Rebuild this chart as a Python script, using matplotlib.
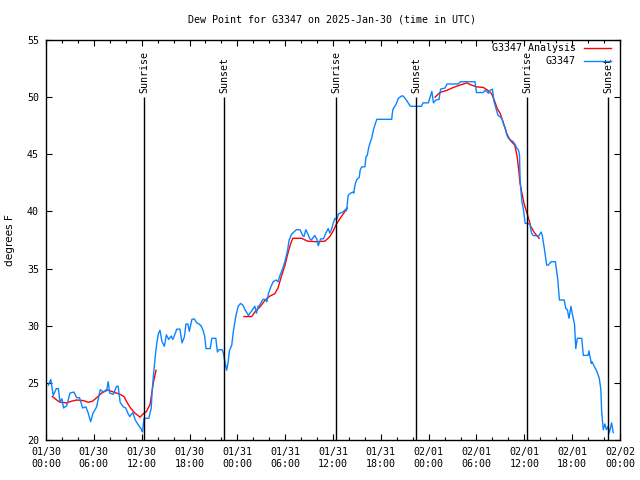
import matplotlib
matplotlib.use("Agg")
import matplotlib.pyplot as plt

# ---- data (hours since 2025-01-30 00:00 UTC, dew point in F) ----
obs_hours = [0.3, 0.6, 0.9, 1.3, 1.55, 1.75, 2.0, 2.2, 2.6, 3.0, 3.5, 3.85, 4.2, 4.6, 5.0, 5.3, 5.6, 5.9,
             6.35, 6.8, 7.2, 7.6, 7.8, 8.0, 8.45, 8.85, 9.05, 9.3, 9.7, 10.0, 10.3, 10.5, 10.9, 11.2, 11.6,
             12.0, 12.1, 12.3, 12.9, 13.2, 13.3, 13.46, 13.7, 13.9, 14.1, 14.3, 14.55, 14.85, 15.1, 15.4,
             15.7, 15.9, 16.2, 16.4, 16.8, 17.06, 17.35, 17.56, 17.8, 17.98, 18.3, 18.6, 18.9, 19.2, 19.44,
             19.7, 19.9, 20.07, 20.6, 20.8, 21.3, 21.5, 21.7, 22.1, 22.25, 22.4, 22.65, 22.85, 23.0, 23.3,
             23.5, 23.8, 24.1, 24.4, 24.7, 24.96, 25.4, 25.6, 25.9, 26.2, 26.4, 26.6, 26.8, 27.2, 27.5,
             27.7, 27.9, 28.2, 28.5, 28.85, 29.1, 29.35, 29.7, 30.0, 30.3, 30.5, 30.8, 31.1, 31.4, 31.86,
             32.2, 32.36, 32.6, 32.8, 33.1, 33.3, 33.7, 33.96, 34.16, 34.45, 34.8, 35.1, 35.4, 35.6, 35.8,
             36.04, 36.25, 36.46, 36.7, 37.1, 37.4, 37.6, 37.7, 37.9, 38.2, 38.55, 38.6, 38.8, 39.0, 39.3,
             39.4, 39.6, 40.0, 40.15, 40.3, 40.45, 40.6, 40.85, 41.06, 41.27, 41.5, 43.36, 43.5, 43.65,
             43.9, 44.2, 44.6, 44.8, 45.2, 45.7, 47.1, 47.3, 47.96, 48.4, 48.6, 48.9, 49.3, 49.5, 50.05,
             50.3, 51.7, 52.0, 53.8, 54.0, 54.85, 55.07, 55.5, 55.7, 56.0, 56.2, 56.5, 56.7, 56.95, 57.2,
             57.4, 57.6, 57.8, 58.0, 58.2, 58.6, 58.8, 59.1, 59.25, 59.4, 59.46, 59.55, 59.7, 59.9, 60.1,
             60.7, 60.9, 61.1, 61.8, 62.1, 62.25, 62.5, 62.8, 63.0, 63.35, 63.9, 64.2, 64.4, 65.0, 65.2,
             65.4, 65.6, 65.85, 66.0, 66.3, 66.45, 66.65, 67.2, 67.4, 68.0, 68.1, 68.4, 68.5, 68.8, 69.1,
             69.4, 69.6, 69.7, 69.9, 70.1, 70.3, 70.5, 70.65, 70.95, 71.15]
obs_values = [24.8, 25.3, 23.9, 24.5, 24.5, 23.35, 23.6, 22.8, 23.0, 24.1, 24.2, 23.7, 23.7, 22.8, 22.9, 22.35, 21.6, 22.35,
              22.9, 24.4, 24.2, 24.3, 25.1, 24.1, 24.0, 24.7, 24.7, 23.3, 22.9, 22.8, 22.3, 22.05, 22.4, 21.75, 21.3,
              20.9, 20.7, 21.9, 21.9, 22.8, 24.1, 25.5, 27.3, 28.5, 29.3, 29.6, 28.6, 28.2, 29.2, 28.8,
              29.1, 28.8, 29.3, 29.7, 29.7, 28.5, 29.0, 30.15, 30.15, 29.5, 30.55, 30.6, 30.25, 30.15, 30.0,
              29.6, 29.1, 28.0, 28.0, 28.9, 28.9, 27.7, 27.9, 27.9, 27.6, 27.0, 26.1, 26.8, 27.8, 28.3,
              29.5, 30.8, 31.7, 31.95, 31.8, 31.4, 30.9, 31.1, 31.4, 31.7, 31.1, 31.7, 31.8, 32.3, 32.3,
              32.1, 32.8, 33.4, 33.85, 34.0, 33.85, 34.4, 35.0, 35.7, 36.6, 37.5, 38.0, 38.2, 38.4, 38.4,
              37.9, 37.8, 38.4, 38.1, 37.6, 37.5, 37.9, 37.6, 37.0, 37.6, 37.6, 38.1, 38.5, 38.1, 38.4,
              39.0, 39.4, 39.3, 39.8, 39.9, 40.05, 40.2, 40.05, 41.4, 41.6, 41.7, 41.6, 42.45, 42.8, 43.0,
              43.6, 43.9, 43.9, 44.8, 44.9, 45.5, 45.9, 46.4, 47.1, 47.6, 48.06, 48.06, 48.9, 49.1,
              49.35, 49.9, 50.1, 50.1, 49.75, 49.2, 49.2, 49.5, 49.5, 50.5, 49.5, 49.75, 49.8, 50.7, 50.8,
              51.15, 51.15, 51.35, 51.35, 50.4, 50.4, 50.6, 50.35, 50.6, 50.7, 49.6, 48.9, 48.4, 48.3, 48.1,
              47.6, 47.3, 46.7, 46.4, 46.3, 46.1, 45.9, 45.5, 45.4, 44.9, 43.0, 42.0, 40.85, 40.1, 38.96,
              38.9, 38.1, 37.9, 37.85, 38.2, 37.9, 36.8, 35.3, 35.3, 35.6, 35.6, 34.0, 32.25, 32.25, 31.5,
              31.4, 30.65, 31.7, 31.1, 30.1, 28.0, 28.9, 28.9, 27.4, 27.4, 27.8, 26.7, 26.85, 26.4, 26.0,
              25.4, 24.4, 22.5, 20.9, 21.4, 20.9, 21.2, 20.6, 21.5, 20.65]

ana1_hours = [0.8, 1.34, 1.76, 2.59, 3.22, 3.85, 4.68, 5.3, 5.85, 6.35, 6.98, 7.6, 8.24, 8.86, 9.28, 9.78,
              10.2, 10.6, 11.16, 11.8, 12.2, 12.6, 13.05, 13.25, 13.46, 13.8]
ana1_values = [23.8, 23.5, 23.3, 23.25, 23.4, 23.5, 23.45, 23.3, 23.4, 23.7, 24.1, 24.4, 24.25, 24.1, 24.0, 23.8,
               23.25, 22.8, 22.35, 22.0, 22.3, 22.5, 23.1, 24.0, 25.0, 26.1]
ana2_hours = [24.84, 25.8, 26.2, 26.84, 27.5, 28.1, 28.7, 29.1, 29.56, 29.98, 30.4, 30.7, 30.95, 32.07,
              32.8, 33.96, 35.0, 35.6, 36.04, 36.4, 36.9, 37.3, 37.8]
ana2_values = [30.8, 30.8, 31.2, 31.65, 32.25, 32.6, 32.8, 33.3, 34.4, 35.3, 36.5, 37.2, 37.65, 37.65,
               37.4, 37.35, 37.4, 37.8, 38.3, 38.85, 39.4, 39.8, 40.3]
ana3_hours = [48.8, 49.4, 50.3, 51.1, 51.9, 52.8, 53.2, 54.0, 54.85, 55.5, 55.9, 56.3, 56.6, 56.95, 57.4,
              57.8, 58.2, 58.8, 59.1, 59.3, 59.46, 59.7, 59.96, 60.4, 60.8, 61.25, 61.85]
ana3_values = [50.0, 50.4, 50.6, 50.85, 51.05, 51.25, 51.1, 50.9, 50.85, 50.55, 50.3, 49.6, 49.0, 48.6, 47.7,
               46.8, 46.25, 45.8, 44.8, 43.6, 42.45, 41.6, 40.7, 39.7, 38.7, 38.15, 37.65]

sun_hours = [12.33, 22.37, 36.41, 46.47, 60.37, 70.53]
sun_labels = ["Sunrise", "Sunset", "Sunrise", "Sunset", "Sunrise", "Sunset"]

tick_hours = [0, 6, 12, 18, 24, 30, 36, 42, 48, 54, 60, 66, 72]
tick_labels = ["01/30\n00:00", "01/30\n06:00", "01/30\n12:00", "01/30\n18:00",
               "01/31\n00:00", "01/31\n06:00", "01/31\n12:00", "01/31\n18:00",
               "02/01\n00:00", "02/01\n06:00", "02/01\n12:00", "02/01\n18:00",
               "02/02\n00:00"]
y_ticks = [20, 25, 30, 35, 40, 45, 50, 55]

FONT = "DejaVu Sans Mono"
FS = 7.2
plt.rcParams['font.family'] = [FONT]
plt.rcParams['font.size'] = FS

fig = plt.figure(figsize=(6.4, 4.8), dpi=100)
ax = fig.add_axes([46/640, 40/480, 574/640, 400/480])

red = "#ff0000"
blue = "#0a84ff"

ax.plot(ana1_hours, ana1_values, color=red, lw=1.0, label="G3347 Analysis")
ax.plot(ana2_hours, ana2_values, color=red, lw=1.0)
ax.plot(ana3_hours, ana3_values, color=red, lw=1.0)
ax.plot(obs_hours, obs_values, color=blue, lw=1.0, label="G3347")

for h, lab in zip(sun_hours, sun_labels):
    ax.vlines(h, 20, 50, color="black", lw=1.0)
    ax.text(h, 50.4, lab, rotation=90, ha="center", va="bottom", fontsize=FS)

ax.set_xlim(0, 72)
ax.set_ylim(20, 55)
ax.set_xticks(tick_hours)
ax.set_xticklabels(tick_labels)
ax.set_xticks(range(0, 73, 2), minor=True)
ax.set_yticks(y_ticks)
ax.tick_params(which="both", direction="in", top=True, right=True, labelsize=FS)
ax.tick_params(which="major", length=4.5, width=0.8)
ax.tick_params(which="minor", length=2.5, width=0.8)
ax.tick_params(axis="x", pad=5)
ax.tick_params(axis="y", pad=5)
for s in ax.spines.values():
    s.set_linewidth(1.0)

ax.set_ylabel("degrees F", fontsize=7.6, family=["DejaVu Sans"], va="center")
ax.yaxis.set_label_coords((10 - 46) / 574, 0.5)
fig.text(332/640, 1 - 20/480, "Dew Point for G3347 on 2025-Jan-30 (time in UTC)",
         ha="center", va="center", fontsize=FS)

leg = ax.legend(loc="upper right", bbox_to_anchor=(611/640, 1 - 43/480),
                bbox_transform=fig.transFigure, frameon=False, markerfirst=False,
                handlelength=2.7, handletextpad=0.8, labelspacing=0.35,
                borderpad=0, borderaxespad=0, fontsize=FS)

fig.savefig("out.png", dpi=100)
